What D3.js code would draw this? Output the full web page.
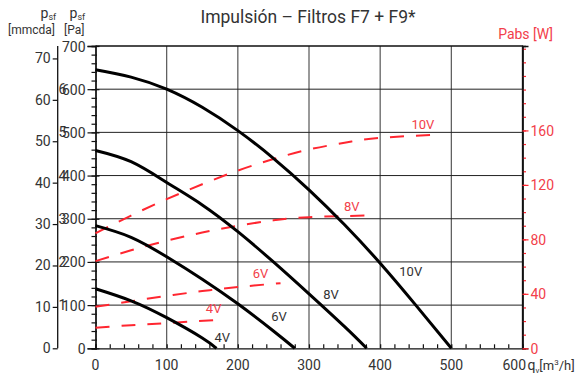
<!DOCTYPE html>
<html>
<head>
<meta charset="utf-8">
<script src="https://cdn.jsdelivr.net/npm/d3@7"></script>
<style>
  body { margin: 0; background: #fff; }
  svg text { font-family: Roboto, "DejaVu Sans", sans-serif; fill: #333; }
</style>
</head>
<body>
<script>
// fan curves: static pressure [Pa] vs flow [m3/h]
const speeds = ["4V", "6V", "8V", "10V"];
const flow4V = [0, 50, 100, 150, 170];
const pres4V = [138, 110, 71, 24, 0];
const flow6V = [0, 50, 100, 150, 200, 250, 280];
const pres6V = [284, 257, 212, 160, 103, 40, 0];
const flow8V = [0, 50, 100, 150, 200, 250, 300, 350, 381];
const pres8V = [458, 432, 384, 332, 270, 200, 126, 50, 0];
const flow10V = [0, 50, 100, 150, 200, 250, 300, 350, 400, 450, 500];
const pres10V = [645, 628, 600, 558, 504, 440, 367, 286, 197, 100, 0];

// absorbed power [W] vs flow [m3/h]
const pwrFlow4V = [0, 50, 100, 175];
const pwr4V = [15, 17, 18.5, 21];
const pwrFlow6V = [0, 50, 100, 150, 200, 260];
const pwr6V = [30.5, 34.5, 38.5, 42, 45, 47.8];
const pwrFlow8V = [0, 50, 100, 150, 200, 250, 300, 380];
const pwr8V = [64, 72, 79, 85, 90, 94, 96.3, 97.5];
const pwrFlow10V = [0, 50, 100, 150, 200, 250, 300, 350, 400, 483];
const pwr10V = [84.5, 97.5, 109.5, 120.5, 130.5, 139, 146, 151, 154.5, 157];

// label anchors (data units)
const presLabelAt = [[178, 26], [258, 74], [331, 124], [443, 179]];
const pwrLabelAt = [[166, 29.6], [232, 55.4], [360, 104.6], [460, 164.8]];

// ticks
const flowTicks = [0, 100, 200, 300, 400, 500];
const paTicks = [0, 100, 200, 300, 400, 500, 600, 700];
const mmTicks = [0, 10, 20, 30, 40, 50, 60, 70];
const wTicks = [0, 40, 80, 120, 160];

const W = 583, H = 376;
const red = "#ff2630", redText = "#f2404a";

const svg = d3.select("body").append("svg").attr("width", W).attr("height", H);

const x = d3.scaleLinear().domain([0, 600]).range([95.5, 522.5]);
const y = d3.scaleLinear().domain([0, 700]).range([348.3, 46]);
const yMm = d3.scaleLinear().domain([0, 73]).range([348.3, 46]);
const yW = d3.scaleLinear().domain([0, 222]).range([348.3, 46]);

// grid
svg.append("g").selectAll("line").data([100, 200, 300, 400, 500]).join("line")
  .attr("x1", d => x(d)).attr("x2", d => x(d)).attr("y1", y(0)).attr("y2", y(700))
  .attr("stroke", "#555").attr("stroke-width", 1.2);
svg.append("g").selectAll("line").data([100, 200, 300, 400, 500, 600]).join("line")
  .attr("x1", x(0)).attr("x2", x(600)).attr("y1", d => y(d)).attr("y2", d => y(d))
  .attr("stroke", "#222").attr("stroke-width", 1);
// frame top/right
svg.append("path")
  .attr("d", `M${x(0)},${y(700)}H${x(600)}V${y(0)}`)
  .attr("fill", "none").attr("stroke", "#111").attr("stroke-width", 1.3);

function styleAxis(g, col) {
  g.select(".domain").attr("stroke", "#111").attr("stroke-width", 1.3);
  g.selectAll(".tick line").attr("stroke", col).attr("stroke-width", 1.2);
  g.selectAll(".tick text").style("font-size", "14px").style("fill", col === "#111" ? "#333" : redText);
}

// Pa axis
const paMinor = d3.range(0, 701, 20);
svg.append("g").attr("transform", `translate(${x(0)},0)`)
  .call(d3.axisLeft(y).tickValues(paMinor).tickSize(4).tickFormat(""))
  .call(g => styleAxis(g, "#111"));
svg.append("g").attr("transform", `translate(${x(0)},0)`)
  .call(d3.axisRight(y).tickValues(paMinor).tickSize(1.5).tickFormat(""))
  .call(g => { g.select(".domain").remove(); styleAxis(g, "#111"); });
svg.append("g").attr("transform", `translate(${x(0)},0)`)
  .call(d3.axisLeft(y).tickValues(paTicks).tickSize(8).tickPadding(2))
  .call(g => styleAxis(g, "#111"))
  .call(g => g.selectAll(".tick text").attr("dy", "0.36em"));
svg.append("g").attr("transform", `translate(${x(0)},0)`)
  .call(d3.axisRight(y).tickValues(paTicks).tickSize(4).tickFormat(""))
  .call(g => { g.select(".domain").remove(); styleAxis(g, "#111"); });
// overlapped first digit seen in the original labels
svg.append("g").selectAll("text").data(paTicks.filter(d => d > 0 && d < 700)).join("text")
  .attr("x", x(0) - 37).attr("y", d => y(d)).attr("dy", "0.36em")
  .attr("text-anchor", "start").style("font-size", "14px")
  .text(d => String(d)[0]);

// mmcda axis
svg.append("g").attr("transform", "translate(57.7,0)")
  .call(d3.axisLeft(yMm).tickValues(mmTicks).tickSize(5).tickPadding(2))
  .call(g => styleAxis(g, "#111"))
  .call(g => g.select(".domain").attr("d", `M0,${yMm(0)}V${yMm(73)}`));

// flow axis
svg.append("g").attr("transform", `translate(0,${y(0)})`)
  .call(d3.axisTop(x).tickValues(d3.range(0, 601, 20)).tickSize(4).tickFormat(""))
  .call(g => styleAxis(g, "#111"));
svg.append("g").selectAll("text").data(flowTicks).join("text")
  .attr("x", d => x(d)).attr("y", 370).attr("text-anchor", "middle")
  .style("font-size", "14px").text(d => d);
svg.append("text").attr("x", 526).attr("y", 370).attr("text-anchor", "end")
  .style("font-size", "14px").text("600");
const qv = svg.append("text").attr("x", 527.5).attr("y", 370).style("font-size", "14px");
qv.append("tspan").text("q");
qv.append("tspan").attr("dy", 3).style("font-size", "8px").text("v");
qv.append("tspan").attr("dy", -3).style("font-size", "13px").text("[m");
qv.append("tspan").attr("dy", -5).style("font-size", "8px").text("3");
qv.append("tspan").attr("dy", 5).style("font-size", "13px").text("/h]");

// power axis (right)
svg.append("g").attr("transform", `translate(${x(600)},0)`)
  .call(d3.axisRight(yW).tickValues(d3.range(0, 221, 10)).tickSize(3.5).tickFormat(""))
  .call(g => styleAxis(g, red));
svg.append("g").attr("transform", `translate(${x(600)},0)`)
  .call(d3.axisRight(yW).tickValues(wTicks).tickSize(6).tickPadding(2))
  .call(g => styleAxis(g, red))
  .call(g => g.selectAll(".tick text").attr("dy", "0.36em"));

// axis titles
function psf(xx) {
  const t = svg.append("text").attr("x", xx).attr("y", 18).style("font-size", "14px");
  t.append("tspan").text("p");
  t.append("tspan").attr("dy", 2).style("font-size", "9px").text("sf");
}
psf(40.5);
psf(69.5);
svg.append("text").attr("x", 55).attr("y", 34).attr("text-anchor", "end")
  .style("font-size", "12px").text("[mmcda]");
svg.append("text").attr("x", 64).attr("y", 34)
  .style("font-size", "12px").text("[Pa]");
svg.append("text").attr("x", 553).attr("y", 39).attr("text-anchor", "end")
  .style("font-size", "14px").style("fill", redText).text("Pabs [W]");

svg.append("text").attr("x", 308).attr("y", 23).attr("text-anchor", "middle")
  .style("font-size", "17.5px").text("Impulsión – Filtros F7 + F9*");

// curves
const presData = [[flow4V, pres4V], [flow6V, pres6V], [flow8V, pres8V], [flow10V, pres10V]];
const pwrData = [[pwrFlow4V, pwr4V], [pwrFlow6V, pwr6V], [pwrFlow8V, pwr8V], [pwrFlow10V, pwr10V]];

const presLine = d3.line().x(d => x(d[0])).y(d => y(d[1])).curve(d3.curveNatural);
const pwrLine = d3.line().x(d => x(d[0])).y(d => yW(d[1])).curve(d3.curveNatural);

svg.append("g").selectAll("path").data(pwrData).join("path")
  .attr("d", d => pwrLine(d3.zip(d[0], d[1])))
  .attr("fill", "none").attr("stroke", red).attr("stroke-width", 2)
  .attr("stroke-dasharray", "14,12");

svg.append("g").selectAll("path").data(presData).join("path")
  .attr("d", d => presLine(d3.zip(d[0], d[1])))
  .attr("fill", "none").attr("stroke", "#000").attr("stroke-width", 3);

// labels
svg.append("g").selectAll("text").data(speeds).join("text")
  .attr("x", (d, i) => x(presLabelAt[i][0])).attr("y", (d, i) => y(presLabelAt[i][1]))
  .attr("dy", "0.36em").attr("text-anchor", "middle").style("font-size", "13px")
  .text(d => d);
svg.append("g").selectAll("text").data(speeds).join("text")
  .attr("x", (d, i) => x(pwrLabelAt[i][0])).attr("y", (d, i) => yW(pwrLabelAt[i][1]))
  .attr("dy", "0.36em").attr("text-anchor", "middle").style("font-size", "13px")
  .style("fill", redText).text(d => d);
</script>
</body>
</html>
